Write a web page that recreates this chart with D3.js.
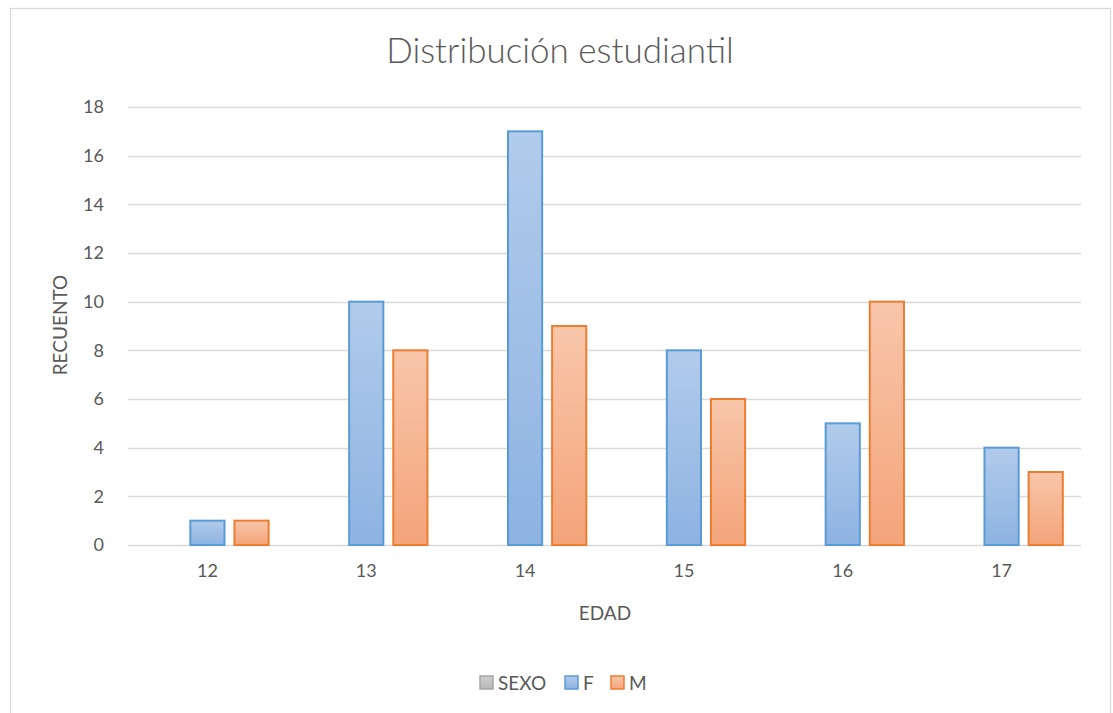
<!DOCTYPE html>
<html>
<head>
<meta charset="utf-8">
<script src="https://cdn.jsdelivr.net/npm/d3@7"></script>
<style>
  body { margin: 0; background: #fff; }
  svg { font-family: Lato, "Open Sans", sans-serif; }
</style>
</head>
<body>
<svg id="chart" width="1113" height="713"></svg>
<script>
// data
const categories = ["12", "13", "14", "15", "16", "17"];
const seriesNames = ["SEXO", "F", "M"];
const valuesSEXO = [null, null, null, null, null, null];
const valuesF = [1, 10, 17, 8, 5, 4];
const valuesM = [1, 8, 9, 6, 10, 3];
const yTicks = [0, 2, 4, 6, 8, 10, 12, 14, 16, 18];

const svg = d3.select("#chart");
const W = 1113, H = 713;
const m = { left: 128, right: 32, top: 107, bottom: 168 };

// outer frame
svg.append("rect")
  .attr("x", 10.5).attr("y", 8.5)
  .attr("width", W - 13).attr("height", H)
  .attr("fill", "#fff").attr("stroke", "#d9d9d9").attr("stroke-width", 1.3);

const defs = svg.append("defs");
const grads = [
  { id: "gF", top: "#b1cbeb", bottom: "#8db3e2" },
  { id: "gM", top: "#f8c6aa", bottom: "#f4a47a" },
  { id: "gS", top: "#cfcfcf", bottom: "#b8b8b8" }
];
grads.forEach(g => {
  const lg = defs.append("linearGradient").attr("id", g.id)
    .attr("x1", 0).attr("y1", 0).attr("x2", 0).attr("y2", 1);
  lg.append("stop").attr("offset", "0%").attr("stop-color", g.top);
  lg.append("stop").attr("offset", "100%").attr("stop-color", g.bottom);
});
const fills = { SEXO: "url(#gS)", F: "url(#gF)", M: "url(#gM)" };
const strokes = { SEXO: "#a5a5a5", F: "#5b9bd5", M: "#ed7d31" };

const x = d3.scaleBand()
  .domain(categories)
  .range([m.left, W - m.right]);

const x1 = d3.scaleBand()
  .domain(seriesNames)
  .range([0, x.bandwidth()])
  .paddingInner(0.18)
  .paddingOuter(0.39);

const y = d3.scaleLinear()
  .domain([0, 18])
  .range([H - m.bottom, m.top]);

// gridlines
svg.append("g")
  .selectAll("line")
  .data(yTicks)
  .join("line")
    .attr("x1", m.left).attr("x2", W - m.right)
    .attr("y1", d => Math.round(y(d)) + 0.5).attr("y2", d => Math.round(y(d)) + 0.5)
    .attr("stroke", "#d9d9d9").attr("stroke-width", 1.3);

// y labels
svg.append("g")
  .selectAll("text")
  .data(yTicks)
  .join("text")
    .attr("x", 104).attr("y", d => y(d))
    .attr("dy", "0.35em")
    .attr("text-anchor", "end")
    .attr("fill", "#595959").attr("font-size", 18)
    .text(d => d);

// bars
const table = categories.map((c, i) => ({
  cat: c,
  vals: [
    { s: "SEXO", v: valuesSEXO[i] },
    { s: "F", v: valuesF[i] },
    { s: "M", v: valuesM[i] }
  ]
}));

svg.append("g")
  .selectAll("g")
  .data(table)
  .join("g")
    .attr("transform", d => "translate(" + x(d.cat) + ",0)")
  .selectAll("rect")
  .data(d => d.vals.filter(v => v.v != null))
  .join("rect")
    .attr("x", d => x1(d.s) + 1)
    .attr("width", x1.bandwidth() - 2)
    .attr("y", d => y(d.v))
    .attr("height", d => y(0) - y(d.v))
    .attr("fill", d => fills[d.s])
    .attr("stroke", d => strokes[d.s])
    .attr("stroke-width", 2);

// x labels
svg.append("g")
  .selectAll("text")
  .data(categories)
  .join("text")
    .attr("x", d => x(d) + x.bandwidth() / 2)
    .attr("y", 577)
    .attr("text-anchor", "middle")
    .attr("fill", "#595959").attr("font-size", 18)
    .text(d => d);

// title
svg.append("text")
  .attr("x", 560).attr("y", 63)
  .attr("text-anchor", "middle")
  .attr("fill", "#595959").attr("font-size", 35).attr("font-weight", 300)
  .text("Distribución estudiantil");

// axis titles
svg.append("text")
  .attr("x", 605).attr("y", 620)
  .attr("text-anchor", "middle")
  .attr("fill", "#595959").attr("font-size", 19)
  .text("EDAD");

svg.append("text")
  .attr("transform", "translate(67,325) rotate(-90)")
  .attr("text-anchor", "middle")
  .attr("fill", "#595959").attr("font-size", 19)
  .text("RECUENTO");

// legend
const legendItems = [
  { name: "SEXO", x: 480 },
  { name: "F", x: 565 },
  { name: "M", x: 611 }
];
const lg = svg.append("g");
lg.selectAll("rect")
  .data(legendItems)
  .join("rect")
    .attr("x", d => d.x).attr("y", 676)
    .attr("width", 13).attr("height", 13)
    .attr("fill", d => fills[d.name])
    .attr("stroke", d => strokes[d.name])
    .attr("stroke-width", 1.5);
lg.selectAll("text")
  .data(legendItems)
  .join("text")
    .attr("x", d => d.x + 18).attr("y", 690)
    .attr("fill", "#595959").attr("font-size", 19)
    .text(d => d.name);
</script>
</body>
</html>
